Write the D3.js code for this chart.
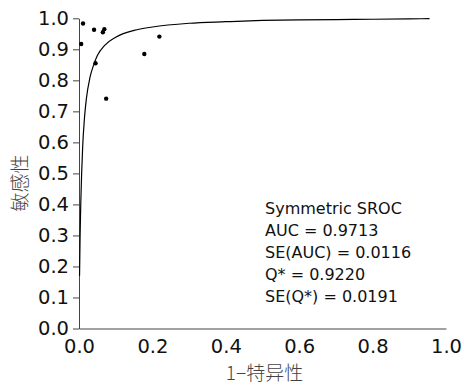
<!DOCTYPE html>
<html>
<head>
<meta charset="utf-8">
<script src="https://cdn.jsdelivr.net/npm/d3@7"></script>
<style>
  body { margin: 0; background: #fff; }
  svg { display: block; }
</style>
</head>
<body>
<svg id="chart" width="464" height="385"></svg>
<script>
// study points (1-specificity, sensitivity)
var studyFpr  = [0.006, 0.011, 0.041, 0.065, 0.069, 0.045, 0.074, 0.178, 0.219];
var studySens = [0.917, 0.983, 0.963, 0.955, 0.965, 0.855, 0.741, 0.885, 0.941];

// SROC curve
var curveFpr = [0.0015, 0.003, 0.005, 0.01, 0.015, 0.02, 0.03, 0.04, 0.05, 0.07, 0.1, 0.15, 0.2, 0.3, 0.4, 0.5, 0.6, 0.7, 0.8, 0.9, 0.955];
var curveTpr = [0.17, 0.30, 0.41, 0.585, 0.68, 0.74, 0.81, 0.85, 0.88, 0.913, 0.939, 0.961, 0.972, 0.984, 0.989, 0.993, 0.995, 0.996, 0.997, 0.998, 0.999];

var tickValues = [0, 0.1, 0.2, 0.3, 0.4, 0.5, 0.6, 0.7, 0.8, 0.9, 1.0];
var xTickValues = [0, 0.2, 0.4, 0.6, 0.8, 1.0];

var statLines = ["Symmetric SROC", "AUC = 0.9713", "SE(AUC) = 0.0116", "Q* = 0.9220", "SE(Q*) = 0.0191"];

var svg = d3.select("#chart");
var margin = {left: 79, top: 18.3, right: 18, bottom: 56.5};
var width = 464 - margin.left - margin.right,
    height = 385 - margin.top - margin.bottom;

var g = svg.append("g").attr("transform", "translate(" + margin.left + "," + margin.top + ")");

var x = d3.scaleLinear().domain([0, 1]).range([0, width]);
var y = d3.scaleLinear().domain([0, 1]).range([height, 0]);

// y axis
var yAxis = g.append("g")
    .call(d3.axisLeft(y).tickValues(tickValues).tickFormat(d3.format(".1f")).tickSize(6).tickPadding(4).tickSizeOuter(0));
yAxis.select(".domain").attr("stroke", "#444");
yAxis.selectAll(".tick line").attr("stroke", "#444");
yAxis.selectAll("text").attr("font-family", "DejaVu Sans, Verdana, sans-serif").attr("font-size", 19.5).attr("fill", "#111");

// x axis
var xAxis = g.append("g")
    .attr("transform", "translate(0," + height + ")")
    .call(d3.axisBottom(x).tickValues(xTickValues).tickFormat(d3.format(".1f")).tickSize(0).tickPadding(11).tickSizeOuter(0));
xAxis.select(".domain").attr("stroke", "#444");
xAxis.selectAll("text").attr("font-family", "DejaVu Sans, Verdana, sans-serif").attr("font-size", 19.5).attr("fill", "#111");

// curve
var curveData = curveFpr.map(function (d, i) { return [d, curveTpr[i]]; });
var line = d3.line()
    .x(function (d) { return x(d[0]); })
    .y(function (d) { return y(d[1]); })
    .curve(d3.curveMonotoneX);

g.append("path")
    .datum(curveData)
    .attr("fill", "none")
    .attr("stroke", "#000")
    .attr("stroke-width", 1.2)
    .attr("d", line);

// points
g.selectAll("circle.pt")
    .data(studyFpr.map(function (d, i) { return [d, studySens[i]]; }))
    .enter().append("circle")
    .attr("class", "pt")
    .attr("cx", function (d) { return x(d[0]); })
    .attr("cy", function (d) { return y(d[1]); })
    .attr("r", 2.2)
    .attr("fill", "#000");

// stats text
var stats = g.append("text")
    .attr("font-family", "DejaVu Sans, Verdana, sans-serif")
    .attr("font-size", 16)
    .attr("fill", "#111");
stats.selectAll("tspan")
    .data(statLines)
    .enter().append("tspan")
    .attr("x", 265 - margin.left)
    .attr("y", function (d, i) { return 214 - margin.top + i * 22; })
    .text(function (d) { return d; });

// axis titles
svg.append("text")
    .attr("x", margin.left + width / 2 + 2)
    .attr("y", 380)
    .attr("text-anchor", "middle")
    .attr("font-family", "Noto Sans CJK SC, sans-serif")
    .attr("font-size", 19)
    .attr("font-weight", 300)
    .attr("fill", "#444")
    .text("1\u2212特异性");

svg.append("text")
    .attr("transform", "translate(27," + 183 + ") rotate(-90)")
    .attr("text-anchor", "middle")
    .attr("font-family", "Noto Sans CJK SC, sans-serif")
    .attr("font-size", 19)
    .attr("font-weight", 300)
    .attr("fill", "#444")
    .text("敏感性");
</script>
</body>
</html>
